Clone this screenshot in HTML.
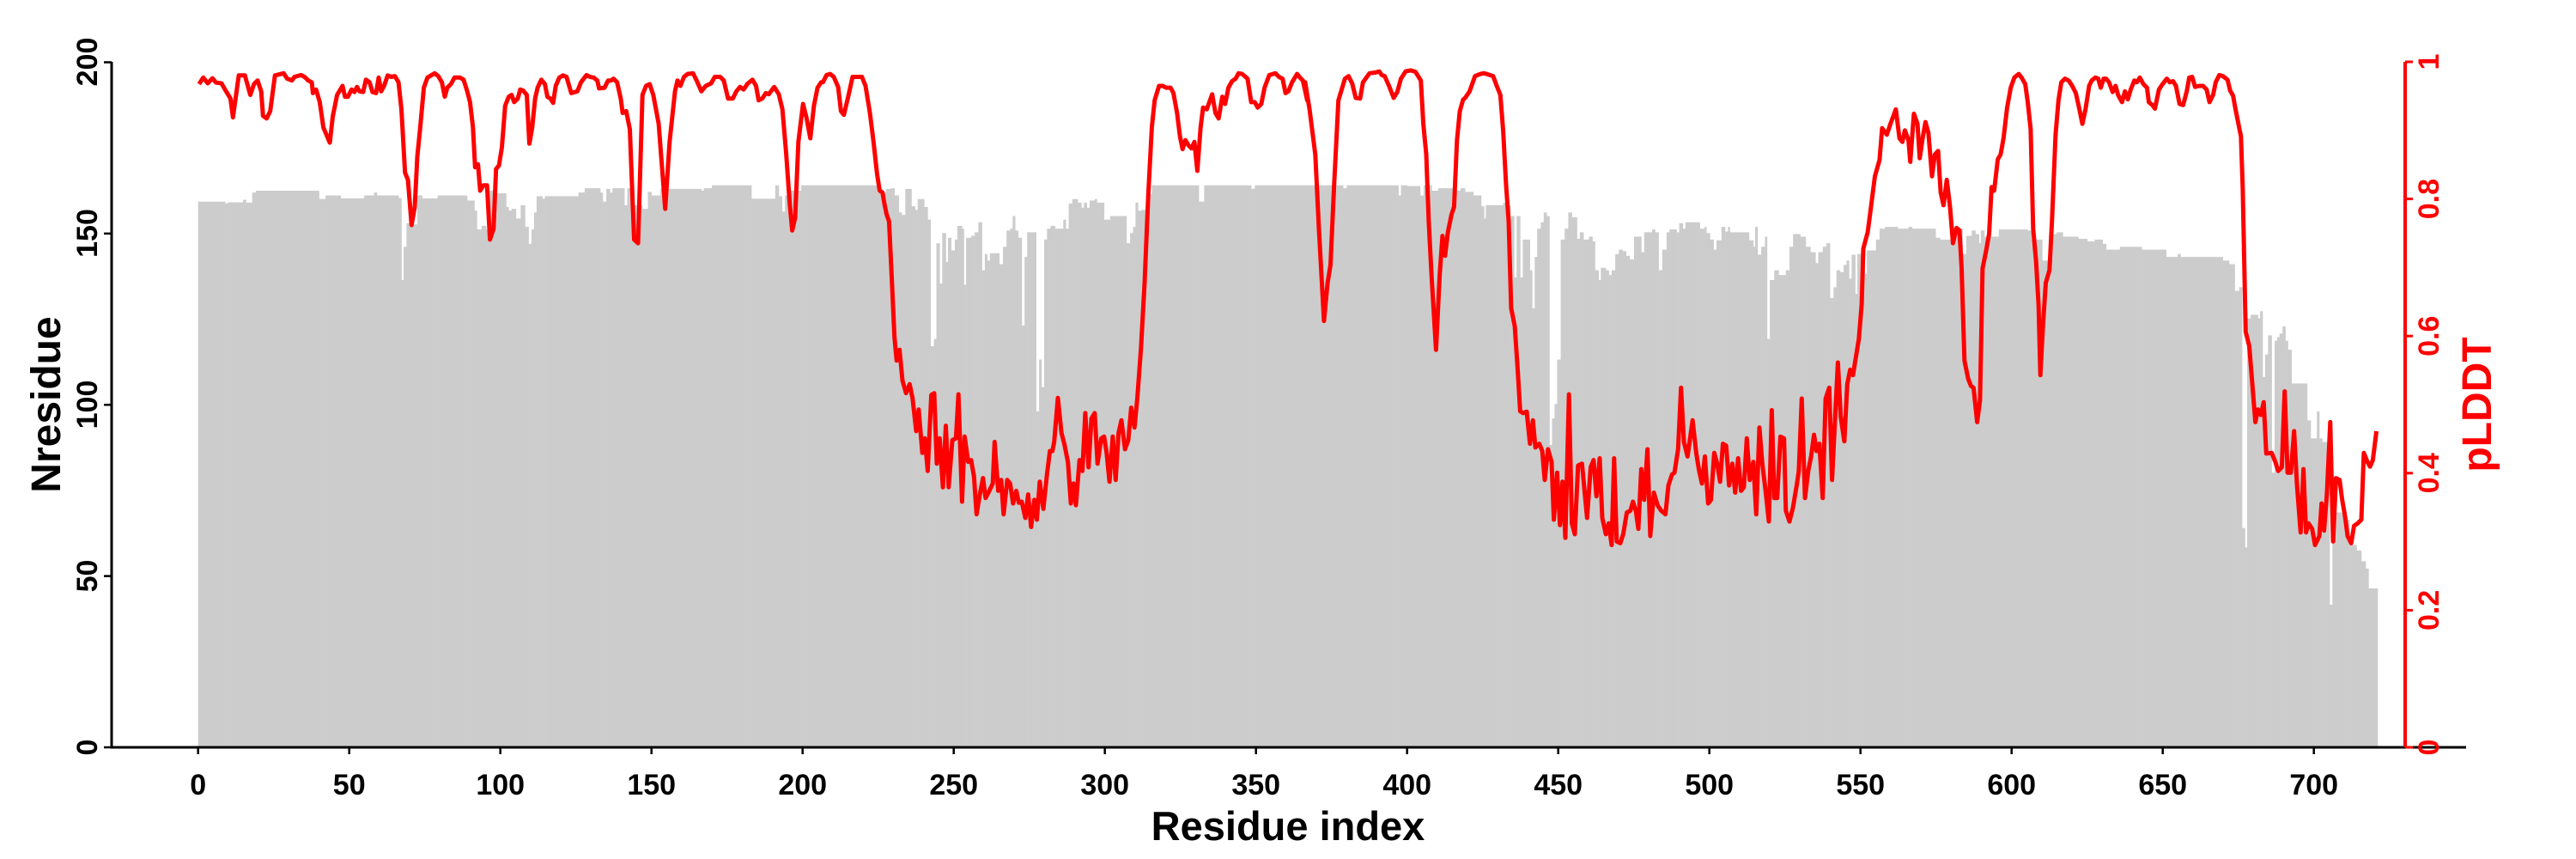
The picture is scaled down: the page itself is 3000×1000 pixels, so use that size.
<!DOCTYPE html>
<html><head><meta charset="utf-8"><style>
html,body{margin:0;padding:0;background:#fff;}
svg{display:block;}
text{font-family:"Liberation Sans",Arial,sans-serif;font-weight:bold;}
</style></head><body>
<svg id="s" width="3000" height="1000" viewBox="0 0 3000 1000" xmlns="http://www.w3.org/2000/svg">
<rect width="3000" height="1000" fill="#fff"/>
<g id="bars" fill="#cccccc"></g>
<polyline id="line" fill="none" stroke="#ff0000" stroke-width="5" stroke-linejoin="round" points=""/>
<g id="axes"></g>
<g font-size="34" text-anchor="middle" fill="#000">
<text x="230.7" y="925">0</text><text x="406.7" y="925">50</text><text x="582.7" y="925">100</text><text x="758.7" y="925">150</text><text x="934.7" y="925">200</text><text x="1110.7" y="925">250</text><text x="1286.7" y="925">300</text><text x="1462.7" y="925">350</text><text x="1638.7" y="925">400</text><text x="1814.7" y="925">450</text><text x="1990.7" y="925">500</text><text x="2166.7" y="925">550</text><text x="2342.7" y="925">600</text><text x="2518.7" y="925">650</text><text x="2694.7" y="925">700</text>
</g>
<g font-size="34" text-anchor="middle" fill="#000">
<text transform="translate(113,870) rotate(-90)">0</text>
<text transform="translate(113,670.5) rotate(-90)">50</text>
<text transform="translate(113,471) rotate(-90)">100</text>
<text transform="translate(113,271.5) rotate(-90)">150</text>
<text transform="translate(113,72) rotate(-90)">200</text>
</g>
<g font-size="34" text-anchor="middle" fill="#ff0000">
<text transform="translate(2840,870) rotate(-90)">0</text>
<text transform="translate(2840,710.4) rotate(-90)">0.2</text>
<text transform="translate(2840,550.8) rotate(-90)">0.4</text>
<text transform="translate(2840,391.2) rotate(-90)">0.6</text>
<text transform="translate(2840,231.6) rotate(-90)">0.8</text>
<text transform="translate(2840,72) rotate(-90)">1</text>
</g>
<text x="1500" y="978" font-size="47" text-anchor="middle" fill="#000">Residue index</text>
<text transform="translate(70,471) rotate(-90)" font-size="48" text-anchor="middle" fill="#000">Nresidue</text>
<text transform="translate(2901,471) rotate(-90)" font-size="48" text-anchor="middle" fill="#ff0000">pLDDT</text>
</svg>
<script>
var K=2.376;
var L=[
[220,[28,90,40,72,52,88,65,74,75,86,90,88,100,105,115,130,122,182,138,66,155,66,170,120,180,90,190,80,200,110,205,178,215,185,225,165,238,66,262,60,272,75,285,80,292,70,310,65,320,70,330,80,340,85,343,115,352,105,362,140,372,210,390,252,398,180,410,120,425,95,432,125,440,125,450,105,458,112,465,98,472,110,482,112,490,78,500,85,508,112,518,115,525,72,532,110,540,95,550,66,560,70,570,68,580,85,588,160,598,335,606,355,616,480,625,430,632,290,640,210,650,100,660,72,680,60,690,68,700,85,708,125,715,100,725,90,735,72,750,72,760,78,770,110,778,140,786,210,792,320,800,312,806,385,815,370,825,370,833,520,843,490,850,325,858,315,866,265,875,150,885,125,893,120,900,140,910,130,917,105,925,108,935,120,942,255,950,210,958,130,965,100,975,78,985,90,992,125,1000,130,1008,142,1015,95,1025,72,1035,66,1045,70,1058,115,1075,110,1085,85,1100,65,1110,70,1120,72,1130,80,1135,102,1150,100,1160,80,1168,80,1175,75,1185,85,1195,130,1200,170,1210,165,1220,215,1232,520,1243,530,1255,120,1265,95,1275,90,1285,120,1300,200,1318,435,1330,250,1345,110,1352,80,1360,95,1370,70,1380,62,1395,60,1405,80,1418,110,1430,95,1445,88,1455,70,1470,70,1480,80,1492,130,1505,130,1515,110,1525,98,1535,105,1545,90]],
[870,[0,90,15,78,25,95,32,135,42,130,52,115,60,118,75,98,88,118,98,160,108,280,118,420,125,495,133,460,142,250,155,145,165,185,175,240,185,150,195,100,205,85,210,85,220,65,230,62,240,70,252,98,260,165,268,175,280,125,292,70,318,70,328,95,340,170,350,250,360,340,367,385,375,390,380,420,386,450,393,470,400,620,408,790,414,855,422,825,430,910,440,945,450,920,458,960,468,1050,475,990,485,1110,492,1070,500,1160,510,950,518,945,525,1140,533,1070,542,1205,550,1035,558,1205,568,1075,578,1070,585,948,595,1245,602,1065,612,1135,620,1130,628,1175,635,1280,645,1220,653,1180,660,1235,668,1220,680,1195,685,1080,695,1215,703,1185,710,1280,720,1185,728,1195,736,1250,745,1215,752,1248,760,1245,770,1290,778,1225,786,1315,795,1240,802,1295,810,1190,820,1265,830,1170,838,1105,845,1105,850,1080,860,958,870,1055,878,1085,888,1135,896,1250,903,1195,910,1255,920,1130,928,1160,936,1000,945,1150,953,1015,962,1000,970,1140,980,1070,988,1065,995,1110,1003,1190,1012,1065,1020,1185,1028,1055,1036,1020,1046,1100,1055,1075,1063,985,1072,1040,1080,960,1090,820,1100,640,1110,400,1120,210,1128,135,1140,95,1150,95,1160,100,1172,100,1180,115,1190,170,1198,235,1205,270,1213,245,1222,260,1230,268,1238,250,1246,330,1255,210,1262,155,1272,160,1287,118,1296,170,1305,185,1315,125,1323,145,1332,100,1342,82,1352,75,1360,60,1370,62,1385,75,1395,140,1405,140,1413,155,1423,145,1432,100,1445,65,1462,60,1472,70,1482,75,1490,115,1498,110,1508,85,1522,62,1530,72,1538,80,1550,135]],
[1520,[0,85,12,160,28,285,38,490,52,745,62,640,70,590,80,370,92,135,110,75,120,68,130,88,140,128,152,130,160,85,178,60,195,58,205,55,212,65,220,68,232,95,245,128,255,112,265,75,278,55,292,52,305,56,320,80,327,200,335,285,342,470,350,625,362,825,372,620,380,510,387,565,395,500,405,450,412,430,420,245,428,165,437,133,443,128,455,110,470,68,485,62,495,60,505,63,520,68,530,95,540,120,548,220,556,370,563,470,570,710,580,760,588,880,595,995,603,1000,613,996,622,1085,630,1020,637,1095,648,1085,656,1105,663,1185,672,1100,682,1135,688,1295,697,1165,705,1310,712,1190,720,1345,730,948,738,1305,746,1335,755,1145,766,1140,780,1290,790,1150,798,1130,806,1230,815,1125,822,1290,832,1335,840,1305,848,1365,855,1125,862,1355,872,1360,880,1335,890,1275,900,1270,907,1245,915,1270,922,1320,930,1155,938,1240,947,1100,955,1340,965,1220,975,1255,985,1270,997,1280,1005,1200,1015,1170,1022,1165,1032,1100,1040,930,1048,1080,1058,1120,1072,1020,1082,1110,1090,1160,1098,1195,1106,1120,1115,1250,1123,1240,1132,1110,1140,1140,1148,1190,1156,1085,1165,1090,1173,1200,1182,1140,1190,1220,1198,1125,1206,1215,1214,1205,1222,1070,1230,1185,1240,1135,1248,1280,1257,1040,1265,1140,1274,1215,1283,1300,1291,992,1298,1235,1306,1235,1315,1065,1325,1070,1330,1270,1340,1300,1350,1260,1360,1200,1366,1160,1374,960,1383,1235,1392,1160,1400,1120,1408,1060,1415,1105,1423,1085,1432,1235,1440,960,1450,930,1458,1185,1465,1040,1474,860,1482,1010,1492,1078,1500,920,1508,880,1516,895,1524,845,1532,795,1540,700]],
[2170,[0,545,12,500,20,440,32,345,45,300,52,212,65,230,75,200,90,160,100,240,108,250,115,218,125,245,130,305,140,172,150,200,156,295,165,235,172,195,180,225,190,345,198,285,207,275,214,390,222,425,231,355,240,430,248,530,258,488,266,495,272,600,280,855,290,905,298,925,305,930,315,1025,323,965,330,600,340,550,348,505,355,375,362,385,372,298,380,285,388,240,398,155,408,100,418,72,430,62,438,72,448,90,455,140,463,215,470,490,478,580,485,700,490,895,497,760,505,640,515,605,522,470,532,230,540,135,548,85,558,75,568,80,578,95,588,115,598,160,606,200,615,160,625,95,632,80,642,72,650,75,657,100,665,75,672,75,680,85,690,112,698,95,705,120,716,140,724,110,732,132,740,105,750,80,757,85,765,72,775,90,785,100,790,140,800,148,807,158,818,105,828,90,840,75,848,85,857,82,865,95,875,145,885,148,895,110,902,72,910,70,918,98,930,95,940,95,950,105,958,140,968,120,975,85,985,65,995,68,1008,78,1015,108,1023,122,1030,160,1045,235,1050,380,1058,775,1068,815,1085,1025,1092,990,1100,1005,1108,970,1115,1112,1130,1110,1140,1135,1148,1160,1158,1150,1166,940,1174,1165,1183,1165,1192,1050,1200,1200,1210,1330,1218,1155,1225,1330,1232,1305,1242,1320,1250,1365,1262,1340,1268,1250,1275,1325,1283,1220,1292,1025,1300,1355,1308,1180,1318,1185,1325,1240,1333,1285,1340,1340,1350,1360,1358,1312,1368,1305,1378,1295,1385,1110,1395,1135,1402,1148,1410,1130,1420,1050]]
];
var B=[
[220,[25,415,100,420,108,417,150,410,158,418,175,390,185,385,360,408,378,398,420,406,485,398,512,390,520,398,580,405,588,632,594,540,602,475,612,478,632,398,645,406,688,398,770,412,790,440,797,492,810,482,822,492,832,385,850,392,878,430,885,440,893,435,905,462,918,425,930,485,940,532,948,492,955,445,962,400,978,407,985,400,1078,390,1095,378,1138,390,1145,415,1155,380,1165,390,1172,378,1205,425,1213,378,1222,425,1255,435,1270,388,1280,398,1305,380,1418,385,1425,378,1447,370]],
[870,[0,370,12,407,78,370,88,400,97,443,105,398,115,385,150,370,362,390,385,380,398,378,408,398,420,445,428,452,438,380,455,428,465,438,472,408,490,430,500,465,508,815,517,795,524,530,533,642,540,502,550,582,556,515,565,550,575,520,582,482,595,490,600,645,606,515,620,510,630,500,640,472,650,605,658,560,665,578,672,558,698,588,708,540,718,495,728,490,735,455,742,495,750,515,760,758,768,568,775,500,800,995,808,852,815,928,822,520,830,490,840,482,852,490,875,465,882,490,890,420,900,408,915,418,925,432,932,418,940,432,948,412,962,408,968,418,988,465,1005,455,1050,530,1060,502,1068,485,1075,418,1082,440,1092,438,1102,440,1110,395,1120,370,1250,415,1265,370,1395,380,1405,370]],
[1520,[4,370,105,378,115,370,258,398,265,370,282,372,318,398,328,370,350,385,368,378,408,380,418,385,430,378,442,388,465,398,487,428,495,462,500,425,548,418,560,425,568,455,578,625,585,455,595,625,602,520,615,520,622,605,628,710,635,568,642,490,652,472,660,445,668,455,676,1088,683,1015,690,975,697,852,707,520,718,490,728,445,738,458,752,518,760,500,770,520,785,512,795,525,802,605,812,632,818,598,832,605,840,618,848,605,858,560,868,548,878,552,888,565,898,575,910,512,930,555,938,500,960,492,968,500,978,605,988,548,1000,500,1008,492,1028,500,1035,475,1045,490,1052,472,1092,490,1105,485,1110,502,1120,520,1130,548,1138,522,1152,485,1162,498,1170,485,1175,500,1210,500,1228,522,1240,540,1245,485,1252,562,1262,540,1272,512,1278,795,1286,632,1298,605,1310,618,1330,605,1340,540,1350,505,1370,512,1385,540,1398,555,1412,585,1420,555,1432,540,1442,530,1452,682,1462,652,1470,605,1480,610,1490,590,1498,578,1505,628,1512,562,1522,670,1528,560,1538,550]],
[2170,[4,615,10,550,20,550,35,520,45,490,60,485,95,490,125,485,135,490,200,515,212,520,240,520,250,495,262,490,275,560,285,510,300,495,310,505,320,530,325,495,335,512,360,512,375,492,455,495,465,520,480,520,495,578,508,578,522,505,535,500,552,512,595,518,620,525,640,520,662,532,672,548,710,540,770,548,838,568,870,560,878,568,995,578,1012,588,1028,662,1040,652,1048,1318,1056,1372,1062,738,1072,728,1092,738,1098,718,1105,900,1112,838,1120,785,1130,1165,1138,800,1145,790,1152,780,1160,760,1168,800,1175,825,1185,918,1210,918,1228,1020,1238,1070,1255,995,1262,1070,1270,1080,1282,1160,1290,1530,1298,1175,1308,1275,1330,1295,1345,1365,1365,1380,1378,1410,1390,1430,1398,1485]]
];
var pts=[];
L.forEach(function(s){var x0=s[0],a=s[1];for(var i=0;i<a.length;i+=2){pts.push((x0+a[i]/K).toFixed(1)+','+(60+a[i+1]/K).toFixed(1));}});
document.getElementById('line').setAttribute('points',pts.join(' '));
var st=[];
B.forEach(function(s){var x0=s[0],a=s[1];for(var i=0;i<a.length;i+=2){st.push([x0+a[i]/K,60+a[i+1]/K]);}});
st[0][0]=230.7;
var h='';
for(var i=0;i<st.length;i++){var x1=st[i][0],x2=(i+1<st.length)?st[i+1][0]:2769;if(x2<=x1)continue;h+='<rect x="'+x1.toFixed(1)+'" y="'+st[i][1].toFixed(1)+'" width="'+(x2-x1+0.3).toFixed(1)+'" height="'+(870-st[i][1]).toFixed(1)+'"/>';}
document.getElementById('bars').innerHTML=h;
var ax='';
ax+='<line x1="130" y1="72" x2="130" y2="871.5" stroke="#000" stroke-width="3"/>';
for(var v=0;v<=200;v+=50){var y=870-v*3.9875;ax+='<line x1="121" y1="'+y+'" x2="130" y2="'+y+'" stroke="#000" stroke-width="2.5"/>';}
ax+='<line x1="130" y1="870" x2="2872" y2="870" stroke="#000" stroke-width="3"/>';
for(var r=0;r<=700;r+=50){var x=230.7+r*3.52;ax+='<line x1="'+x+'" y1="870" x2="'+x+'" y2="878" stroke="#000" stroke-width="2.5"/>';}
ax+='<line x1="2801" y1="72" x2="2801" y2="870" stroke="#ff0000" stroke-width="4"/>';
for(var p=0;p<=5;p++){var y=870-p*159.6;ax+='<line x1="2801" y1="'+y+'" x2="2810" y2="'+y+'" stroke="#ff0000" stroke-width="3"/>';}
document.getElementById('axes').innerHTML=ax;
</script>
</body></html>
